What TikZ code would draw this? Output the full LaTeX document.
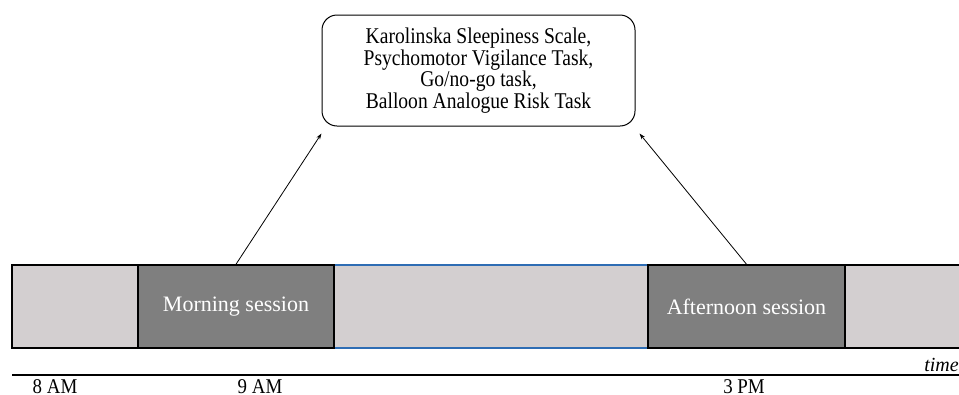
\documentclass[tikz,border=0pt]{standalone}
\usepackage{fontspec}
\setmainfont{Liberation Serif}
\newfontfamily\boxserif[FakeStretch=0.87]{Liberation Serif}
\newfontfamily\hourserif[FakeStretch=0.9]{Liberation Serif}
\usetikzlibrary{arrows.meta}

\definecolor{lightseg}{HTML}{D3CFD0}
\definecolor{darkseg}{HTML}{7F7F7F}
\definecolor{midblue}{HTML}{2E6DB4}

\begin{document}
\begin{tikzpicture}
[x=1pt,y=-1pt,
 seg/.style={draw=black,line width=1.5pt,minimum height=83pt,inner sep=0pt,fill=lightseg},
 sess/.style={seg,fill=darkseg,text=white,font=\fontsize{22}{22}\selectfont},
 hour/.style={anchor=base,inner sep=0pt,font=\hourserif\fontsize{21}{21}\selectfont}]
\useasboundingbox (0,0) rectangle (959,394);
\node[seg,minimum width=126pt] (pre) at (75,306.5) {};
\node[seg,draw=midblue,minimum width=314pt] (gap) at (491,306.5) {};
\node[seg,minimum width=130pt] (post) at (910,306.5) {};
\node[sess,minimum width=196pt] (morning) at (236,306.5) {Morning session};
\node[sess,minimum width=197pt] (afternoon) at (746.5,306.5) {Afternoon session};
\node[draw,line width=1pt,rounded corners=15pt,minimum width=313pt,minimum height=111pt,
 align=center,font=\boxserif\fontsize{22.5}{19.7}\selectfont] (tests) at (478.5,70.5)
 {Karolinska Sleepiness Scale,\\Psychomotor Vigilance Task,\\Go/no-go task,\\Balloon Analogue Risk Task};
\coordinate (inL) at ([yshift=-7pt]tests.south west);
\coordinate (inR) at ([xshift=4pt,yshift=-7pt]tests.south east);
\foreach \from/\to in {morning/inL,afternoon/inR}
\draw[line width=0.8pt,-{Stealth[length=6pt,width=4pt]}] (\from.north) -- (\to);
% time axis
\coordinate (t0) at (12,375);
\coordinate (t1) at (959,375);
\draw[line width=2pt] (t0) -- (t1);
\node[anchor=base east,inner sep=0pt,font=\fontsize{20}{20}\selectfont\itshape] (time) at (959,371) {time};
\node[hour] (h8) at (55,393) {8 AM};
\node[hour] (h9) at (260,393) {9 AM};
\node[hour] (h15) at (744,393) {3 PM};
\end{tikzpicture}
\end{document}
